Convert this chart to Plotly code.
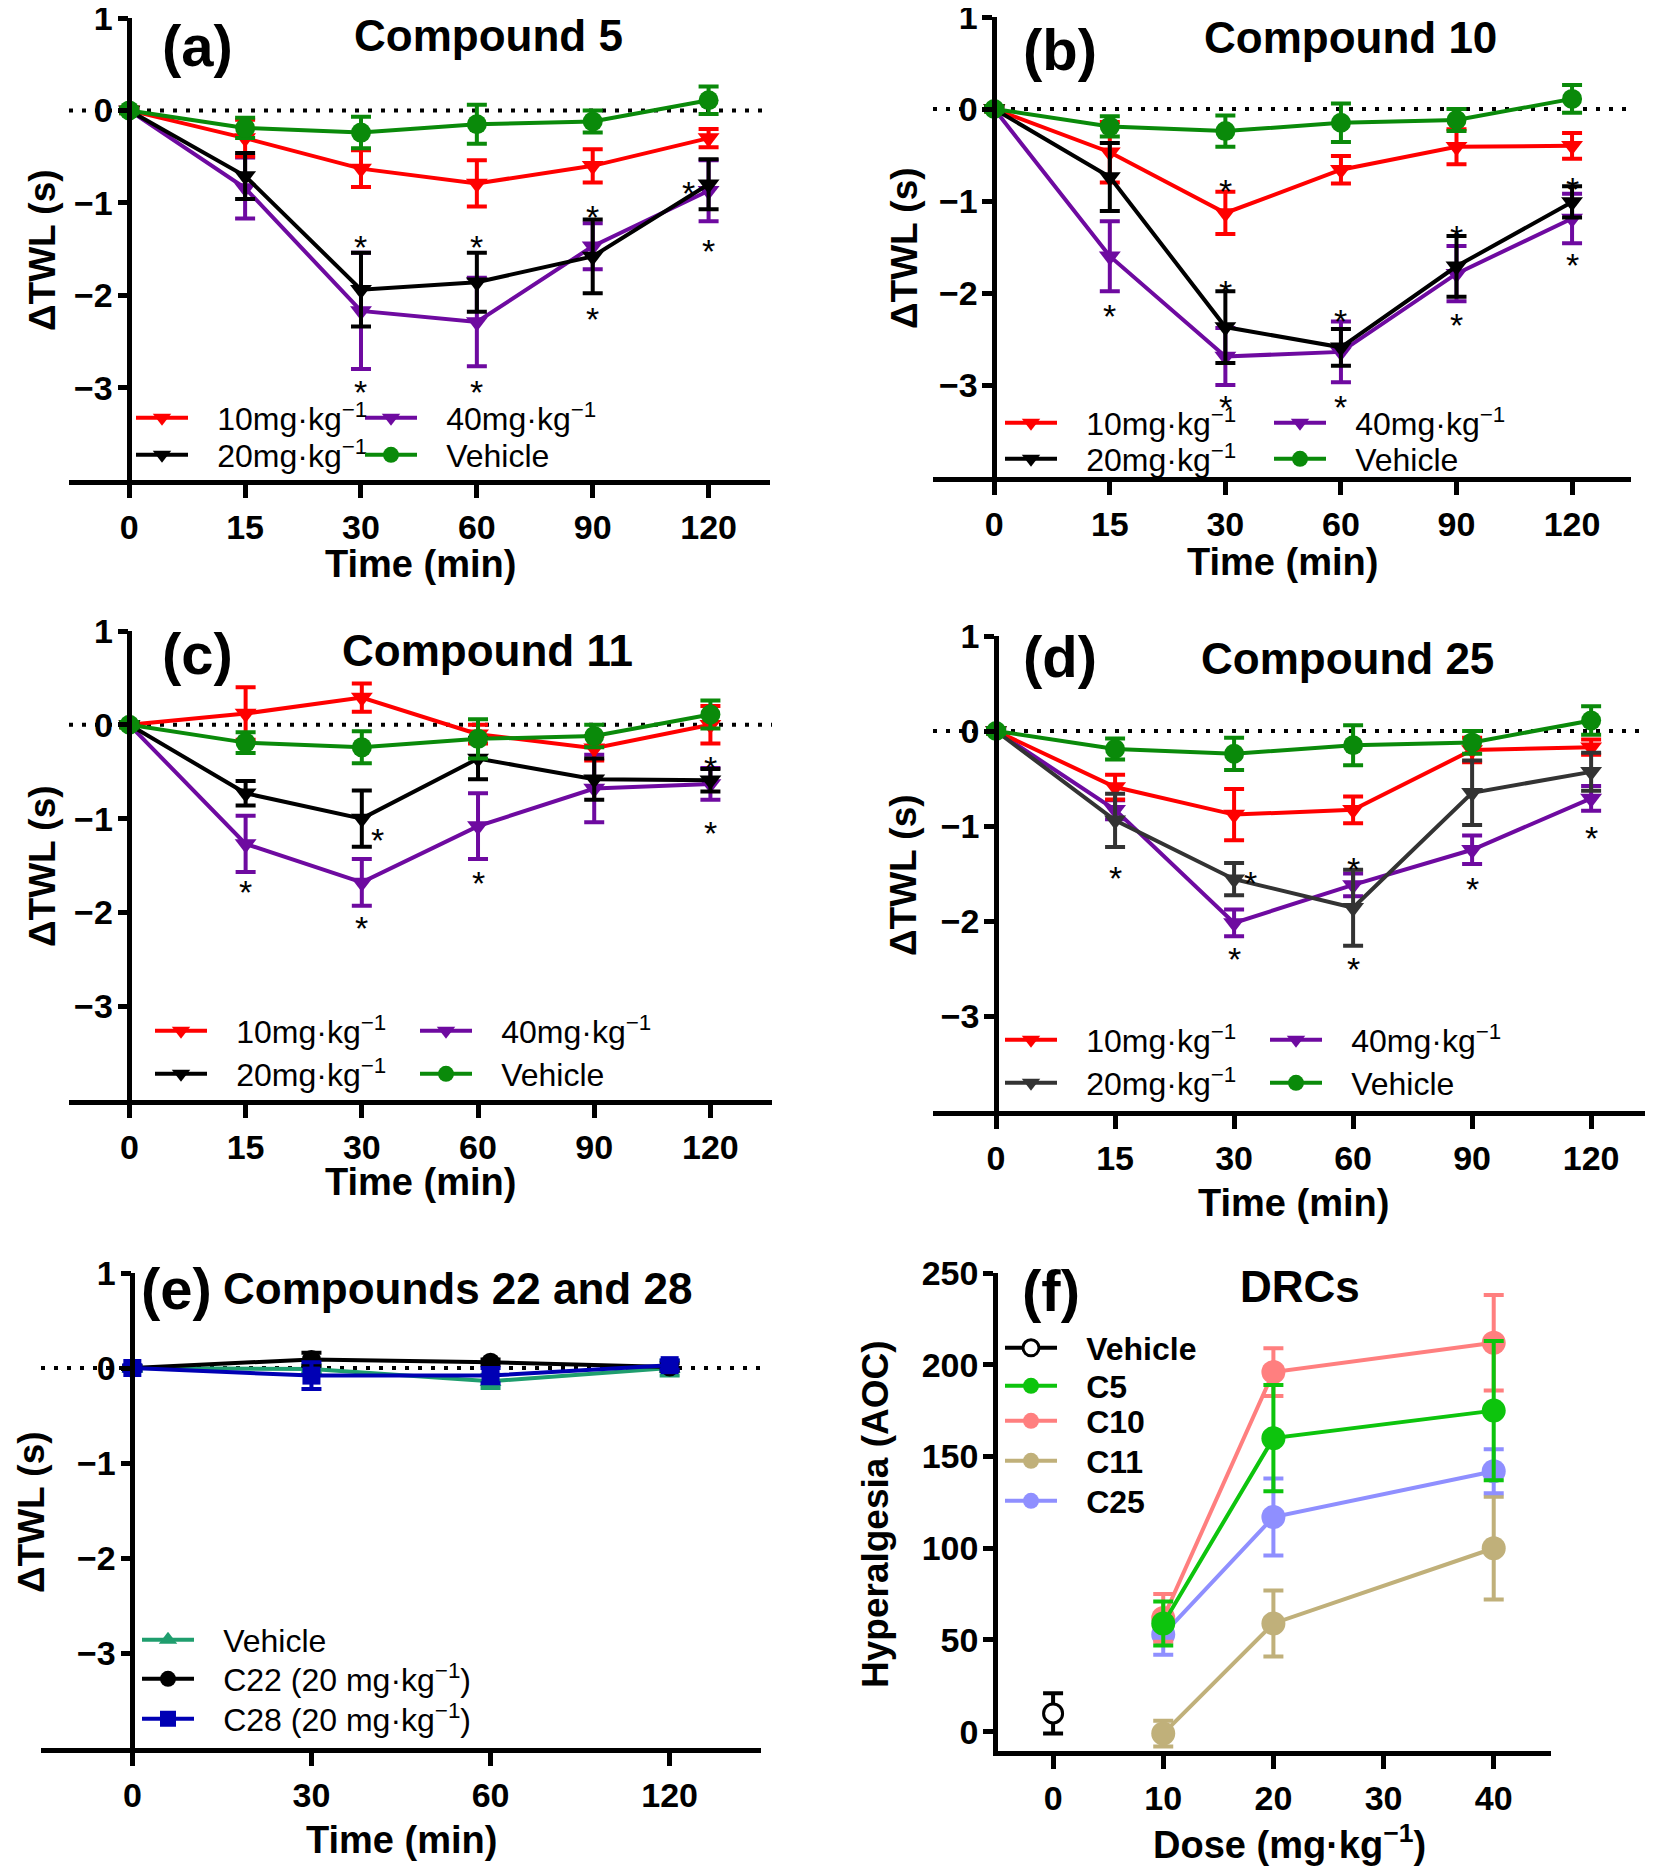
import plotly.graph_objects as go

# page body has an 8px margin: the figure is drawn 8px in from the window corner
OFF = 8
W, H = 1653 - OFF, 1868 - OFF
FONT = "Liberation Sans, Arial, sans-serif"

# ---------------- data ----------------
time_labels = ["0", "15", "30", "60", "90", "120"]
time_labels_e = ["0", "30", "60", "120"]

vehicle = [0, -0.19, -0.24, -0.15, -0.12, 0.11]
vehicle_err = [0.03, 0.11, 0.17, 0.21, 0.12, 0.15]

# (a) compound 5
a_10 = [0, -0.30, -0.63, -0.79, -0.60, -0.30]
a_10_err = [0.03, 0.20, 0.20, 0.25, 0.18, 0.10]
a_20 = [0, -0.71, -1.94, -1.86, -1.58, -0.80]
a_20_err = [0.02, 0.25, 0.40, 0.32, 0.40, 0.27]
a_40 = [0, -0.84, -2.17, -2.29, -1.47, -0.87]
a_40_err = [0.02, 0.33, 0.63, 0.48, 0.25, 0.33]

# (b) compound 10
b_10 = [0, -0.47, -1.13, -0.66, -0.41, -0.40]
b_10_err = [0.03, 0.33, 0.23, 0.15, 0.19, 0.14]
b_20 = [0, -0.74, -2.37, -2.59, -1.71, -1.01]
b_20_err = [0.02, 0.37, 0.39, 0.20, 0.33, 0.17]
b_40 = [0, -1.60, -2.69, -2.64, -1.79, -1.19]
b_40_err = [0.02, 0.38, 0.31, 0.33, 0.30, 0.27]

# (c) compound 11
c_10 = [0, 0.12, 0.29, -0.10, -0.25, 0.0]
c_10_err = [0.03, 0.28, 0.15, 0.10, 0.13, 0.20]
c_20 = [0, -0.73, -1.00, -0.36, -0.58, -0.59]
c_20_err = [0.02, 0.13, 0.30, 0.22, 0.22, 0.12]
c_40 = [0, -1.27, -1.68, -1.08, -0.68, -0.63]
c_40_err = [0.02, 0.30, 0.25, 0.35, 0.36, 0.17]

# (d) compound 25
d_10 = [0, -0.59, -0.88, -0.83, -0.20, -0.17]
d_10_err = [0.03, 0.13, 0.27, 0.14, 0.13, 0.08]
d_20 = [0, -0.94, -1.56, -1.86, -0.65, -0.43]
d_20_err = [0.02, 0.28, 0.17, 0.40, 0.34, 0.20]
d_40 = [0, -0.83, -2.02, -1.62, -1.25, -0.71]
d_40_err = [0.02, 0.10, 0.14, 0.12, 0.15, 0.13]

# (e) compounds 22 and 28
e_vehicle = [0, -0.01, -0.14, 0.0]
e_vehicle_err = [0.02, 0.04, 0.07, 0.08]
e_c22 = [0, 0.09, 0.06, 0.01]
e_c22_err = [0.02, 0.07, 0.03, 0.04]
e_c28 = [0, -0.08, -0.08, 0.03]
e_c28_err = [0.03, 0.14, 0.08, 0.05]

# (f) dose-response curves
doses = [10, 20, 40]
f_vehicle_dose = [0]
f_vehicle = [10]
f_vehicle_err = [11]
f_c5 = [59, 160, 175]
f_c5_err = [12, 29, 38]
f_c10 = [62, 196, 212]
f_c10_err = [13, 13, 26]
f_c11 = [-1, 59, 100]
f_c11_err = [7, 18, 28]
f_c25 = [53, 117, 142]
f_c25_err = [11, 21, 12]

# significance stars: (time, y, side)
stars_a = [("30", -1.37, ""), ("30", -2.94, ""), ("60", -1.37, ""), ("60", -2.94, ""),
           ("90", -1.04, ""), ("90", -2.15, ""), ("120", -0.79, "left"), ("120", -1.41, "")]
stars_b = [("15", -2.14, ""), ("30", -0.78, ""), ("30", -1.88, ""), ("30", -3.13, ""),
           ("60", -2.20, ""), ("60", -3.13, ""), ("90", -1.28, ""), ("90", -2.24, ""),
           ("120", -0.76, ""), ("120", -1.59, "")]
stars_c = [("15", -1.68, ""), ("30", -1.12, "right"), ("30", -2.06, ""), ("60", -1.58, ""),
           ("120", -0.35, ""), ("120", -1.05, "")]
stars_d = [("15", -1.44, ""), ("30", -1.49, "right"), ("30", -2.29, ""), ("60", -1.35, ""),
           ("60", -2.40, ""), ("90", -1.56, ""), ("120", -1.02, "")]

dose_names = ["10mg·kg<sup>−1</sup>", "20mg·kg<sup>−1</sup>", "40mg·kg<sup>−1</sup>", "Vehicle"]

# ---------------- style ----------------
RED, BLACK, PURPLE, GREEN = "#ff0000", "#000000", "#6e0aa0", "#0a8a0a"
AXW = 4.5
LW = 4
ITEMW = 52
NB = "\u00a0\u00a0\u2009"


def fx(px):
    return (px - OFF) / W


def fy(py):
    return 1 - (py - OFF) / H


# panel geometry in window pixels: x-axis line left/right, y top/bottom
geo = {
    1: dict(l=69, r=770, t=18, b=480, xr=[-0.52, 5.53], yr=[-4, 1]),
    2: dict(l=933, r=1631, t=17, b=477, xr=[-0.53, 5.51], yr=[-4, 1]),
    3: dict(l=69, r=772, t=631, b=1100, xr=[-0.52, 5.53], yr=[-4, 1]),
    4: dict(l=933, r=1653, t=636, b=1111, xr=[-0.53, 5.52], yr=[-4, 1]),
    5: dict(l=41, r=761, t=1273, b=1748, xr=[-0.51, 3.51], yr=[-4, 1]),
    6: dict(l=998, r=1551, t=1273, b=1751, xr=[-5, 45.2], yr=[-10.5, 250]),
}

fig = go.Figure()
layout = dict(width=W, height=H, margin=dict(l=0, r=0, t=0, b=0, autoexpand=False),
              paper_bgcolor="white", plot_bgcolor="rgba(0,0,0,0)",
              font=dict(family=FONT, color="black"), showlegend=True)
annotations = []
shapes = []
legend_count = [0]


def ax_names(i):
    return ("xaxis" if i == 1 else f"xaxis{i}", "yaxis" if i == 1 else f"yaxis{i}",
            "x" if i == 1 else f"x{i}", "y" if i == 1 else f"y{i}")


def setup_axes(i, tickvals, ticktext, yticks, free=True):
    g = geo[i]
    xn, yn, xr, yr = ax_names(i)
    common = dict(showline=True, linewidth=AXW, linecolor="black", ticks="outside",
                  tickwidth=AXW, tickcolor="black", showgrid=False, zeroline=False,
                  automargin=False, ticklabeloverflow="allow",
                  tickfont=dict(family=FONT, size=34, weight="bold", color="black"))
    layout[xn] = dict(domain=[fx(g["l"]), min(fx(g["r"]), 1)], range=g["xr"], anchor=yr,
                      tickvals=tickvals, ticktext=ticktext, ticklen=13, **common)
    ya = dict(domain=[fy(g["b"]), fy(g["t"])], range=g["yr"], tickvals=yticks,
              ticklen=10, ticklabelstandoff=-2, **common)
    if free:
        x0 = g["l"] + (0 - g["xr"][0]) / (g["xr"][1] - g["xr"][0]) * (g["r"] - g["l"])
        ya.update(anchor="free", position=fx(x0))
    else:
        ya.update(anchor=xr)
    layout[yn] = ya
    if free:
        shapes.append(dict(type="line", xref=xr, yref=yr, x0=g["xr"][0], x1=g["xr"][1], y0=0, y1=0,
                           line=dict(color="black", width=4, dash="4px,9px"), layer="below"))


def add_legend(mx, my, size=32, bold=False):
    legend_count[0] += 1
    n = legend_count[0]
    name = "legend" if n == 1 else f"legend{n}"
    layout[name] = dict(x=fx(mx - (ITEMW + 10) / 2), y=fy(my), xanchor="left", yanchor="middle",
                        bgcolor="rgba(0,0,0,0)", borderwidth=0, itemwidth=ITEMW,
                        font=dict(family=FONT, size=size, color="black",
                                  weight="bold" if bold else "normal"))
    return name


def add_series(i, x, y, err, color, symbol, msize, name, legpos, size=32, bold=False,
               fill=None):
    _, _, xr, yr = ax_names(i)
    leg = add_legend(*legpos, size=size, bold=bold)
    fig.add_trace(go.Scatter(
        x=x, y=y, mode="lines+markers", name=NB + name, legend=leg,
        xaxis=xr, yaxis=yr, cliponaxis=False,
        line=dict(color=color, width=LW),
        marker=dict(symbol=symbol, size=msize, color=fill or color,
                    line=dict(color=color, width=3 if fill else 0)),
        error_y=dict(type="data", array=err, color=color, thickness=LW, width=10),
    ))


def add_stars(i, stars, labels):
    _, _, xr, yr = ax_names(i)
    for t, yv, side in stars:
        dx = {"": 0, "left": -20, "right": 16}[side]
        annotations.append(dict(x=labels.index(t), y=yv, xref=xr, yref=yr, text="*",
                                showarrow=False, xshift=dx, yshift=-10,
                                font=dict(family=FONT, size=34, color="black")))


def add_text(x, y, text, size, bold=True, angle=0):
    annotations.append(dict(x=fx(x), y=fy(y), xref="paper", yref="paper", text=text,
                            showarrow=False, textangle=angle, xanchor="center", yanchor="middle",
                            font=dict(family=FONT, size=size, color="black",
                                      weight="bold" if bold else "normal")))


pos6 = list(range(len(time_labels)))
panels = [
    (1, "(a)", "Compound 5", (a_10, a_10_err), (a_20, a_20_err), (a_40, a_40_err), BLACK, stars_a,
     (162, 391, 418, 455), (197, 46), (488, 35), (420, 564), (42, 250)),
    (2, "(b)", "Compound 10", (b_10, b_10_err), (b_20, b_20_err), (b_40, b_40_err), BLACK, stars_b,
     (1031, 1300, 423, 459), (1060, 49), (1350, 38), (1282, 562), (904, 248)),
    (3, "(c)", "Compound 11", (c_10, c_10_err), (c_20, c_20_err), (c_40, c_40_err), BLACK, stars_c,
     (181, 446, 1031, 1074), (197, 653), (487, 650), (420, 1182), (42, 866)),
    (4, "(d)", "Compound 25", (d_10, d_10_err), (d_20, d_20_err), (d_40, d_40_err), "#333333", stars_d,
     (1031, 1296, 1040, 1083), (1060, 656), (1347, 658), (1293, 1203), (904, 875)),
]

for i, tag, title, s10, s20, s40, c20, stars, lp, tagpos, titlepos, xtpos, ytpos in panels:
    setup_axes(i, pos6, time_labels, [1, 0, -1, -2, -3])
    c1x, c2x, r1y, r2y = lp
    add_series(i, pos6, s40[0], s40[1], PURPLE, "triangle-down", 19, dose_names[2], (c2x, r1y))
    add_series(i, pos6, s10[0], s10[1], RED, "triangle-down", 19, dose_names[0], (c1x, r1y))
    add_series(i, pos6, s20[0], s20[1], c20, "triangle-down", 19, dose_names[1], (c1x, r2y))
    add_series(i, pos6, vehicle, vehicle_err, GREEN, "circle", 20, dose_names[3], (c2x, r2y))
    add_stars(i, stars, time_labels)
    add_text(*tagpos, tag, 58)
    add_text(*titlepos, title, 44)
    add_text(*xtpos, "Time (min)", 38)
    add_text(*ytpos, "ΔTWL (s)", 37, angle=-90)

# (e)
pos4 = list(range(len(time_labels_e)))
setup_axes(5, pos4, time_labels_e, [1, 0, -1, -2, -3])
add_series(5, pos4, e_vehicle, e_vehicle_err, "#1f9e6e", "triangle-up", 19, "Vehicle", (168, 1640))
add_series(5, pos4, e_c22, e_c22_err, BLACK, "circle", 19, "C22 (20 mg·kg<sup>−1</sup>)", (168, 1679))
add_series(5, pos4, e_c28, e_c28_err, "#0000b4", "square", 18, "C28 (20 mg·kg<sup>−1</sup>)", (168, 1719))
add_text(176, 1288, "(e)", 58)
add_text(457, 1288, "Compounds 22 and 28", 44)
add_text(401, 1840, "Time (min)", 38)
add_text(31, 1512, "ΔTWL (s)", 37, angle=-90)

# (f)
setup_axes(6, [0, 10, 20, 30, 40], ["0", "10", "20", "30", "40"], [0, 50, 100, 150, 200, 250], free=False)
add_series(6, doses, f_c11, f_c11_err, "#c0b07a", "circle", 24, "C11", (1031, 1461), size=32, bold=True)
add_series(6, doses, f_c25, f_c25_err, "#8f8fff", "circle", 24, "C25", (1031, 1501), size=32, bold=True)
add_series(6, doses, f_c10, f_c10_err, "#ff7f7f", "circle", 24, "C10", (1031, 1421), size=32, bold=True)
add_series(6, doses, f_c5, f_c5_err, "#0dc40d", "circle", 24, "C5", (1031, 1386), size=32, bold=True)
add_series(6, f_vehicle_dose, f_vehicle, f_vehicle_err, BLACK, "circle", 19, "Vehicle", (1031, 1348),
           size=32, bold=True, fill="white")
add_text(1051, 1290, "(f)", 58)
add_text(1300, 1286, "DRCs", 44)
add_text(1289, 1842, "Dose (mg·kg<sup>−1</sup>)", 38)
add_text(875, 1514, "Hyperalgesia (AOC)", 37, angle=-90)

layout["annotations"] = annotations
layout["shapes"] = shapes
fig.update_layout(**layout)
fig.write_html("out.html")
